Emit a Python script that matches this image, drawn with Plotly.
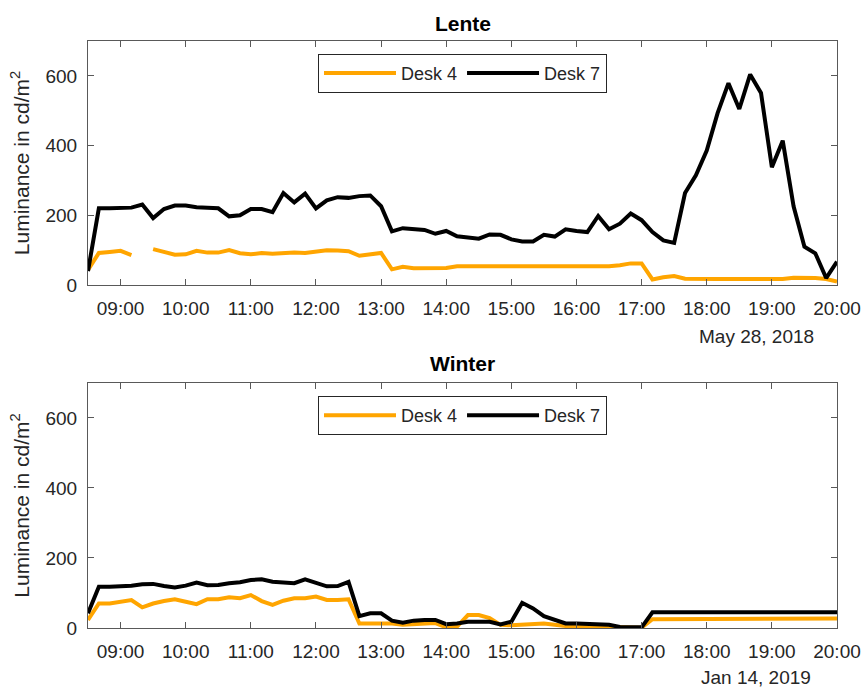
import pandas as pd
import plotly.graph_objects as go

# ---- data (10-minute samples, 08:30 - 20:00) ----
times_lente = pd.date_range("2018-05-28 08:30", "2018-05-28 20:00", freq="10min")
times_winter = pd.date_range("2019-01-14 08:30", "2019-01-14 20:00", freq="10min")

lente_desk4 = [43, 92, 95, 98, 86, None, 103, 95, 87, 88,
               98, 93, 93, 100, 91, 88, 92, 90, 92, 93,
               92, 97, 100, 99, 97, 84, 88, 92, 45, 52,
               48, 48, 49, 49, 54, 54, 54, 54, 55, 54,
               55, 54, 54, 55, 55, 55, 56, 55, 54, 57,
               62, 62, 16, 22, 26, 18, 17, 17, 17, 17,
               17, 17, 17, 17, 17, 21, 21, 20, 17, 10]

lente_desk7 = [40, 220, 220, 220, 222, 231, 192, 218, 228, 228,
               223, 222, 220, 197, 200, 218, 218, 209, 264, 237,
               262, 220, 243, 252, 250, 255, 257, 226, 154, 163,
               160, 158, 147, 155, 140, 136, 133, 145, 144, 131,
               125, 125, 144, 139, 160, 155, 152, 198, 160, 176,
               205, 186, 152, 128, 121, 264, 315, 386, 493, 579,
               505, 604, 551, 338, 414, 226, 110, 91, 20, 67]

winter_desk4 = [23, 70, 70, 75, 80, 59, 70, 77, 82, 75,
                68, 82, 82, 88, 85, 94, 77, 66, 78, 85,
                85, 90, 80, 80, 82, 13, 13, 13, 13, 9,
                11, 13, 14, 2, 4, 37, 37, 28, 9, 8,
                10, 11, 13, 9, 6, 6, 5, 4, 3, 1,
                1, 1, 25, 25, 25, 25, 25, 25, 25, 25,
                25, 26, 26, 26, 26, 26, 26, 27, 27, 27]

winter_desk7 = [42, 118, 118, 119, 121, 125, 126, 120, 116, 121,
                130, 122, 123, 128, 131, 137, 139, 132, 131, 128,
                139, 130, 119, 120, 132, 34, 42, 42, 21, 15,
                21, 23, 23, 11, 13, 18, 18, 18, 10, 18,
                72, 56, 34, 23, 13, 13, 11, 10, 9, 3,
                2, 2, 45, 45, 45, 45, 45, 45, 45, 45,
                45, 45, 45, 45, 45, 45, 45, 45, 45, 45]

series_names = ["Desk 4", "Desk 7"]
panel_titles = ["Lente", "Winter"]
date_labels = ["May 28, 2018", "Jan 14, 2019"]
y_ticks = [0, 200, 400, 600]

ORANGE = "#FFA500"
BLACK = "#000000"
TXT = "#262626"
FONT = "Liberation Sans, Arial, Helvetica, sans-serif"
LW = 4

fig = go.Figure()

fig.add_trace(go.Scatter(x=times_lente, y=lente_desk4, mode="lines", name=series_names[0],
                         line=dict(color=ORANGE, width=LW), xaxis="x", yaxis="y", legend="legend"))
fig.add_trace(go.Scatter(x=times_lente, y=lente_desk7, mode="lines", name=series_names[1],
                         line=dict(color=BLACK, width=LW), xaxis="x", yaxis="y", legend="legend"))
fig.add_trace(go.Scatter(x=times_winter, y=winter_desk4, mode="lines", name=series_names[0],
                         line=dict(color=ORANGE, width=LW), xaxis="x2", yaxis="y2", legend="legend2"))
fig.add_trace(go.Scatter(x=times_winter, y=winter_desk7, mode="lines", name=series_names[1],
                         line=dict(color=BLACK, width=LW), xaxis="x2", yaxis="y2", legend="legend2"))

axis_common = dict(showline=True, linecolor="#595959", linewidth=1, mirror="ticks",
                   ticks="inside", ticklen=6, tickcolor="#595959", showgrid=False, zeroline=False,
                   automargin=False,
                   tickfont=dict(size=19, color=TXT, family=FONT))

xcommon = dict(axis_common, type="date", tickformat="%H:%M", dtick=3600000, ticklabelstandoff=6)
ytitle = dict(text="Luminance in cd/m<sup>2</sup>", standoff=10,
              font=dict(size=21, color=TXT, family=FONT))

fig.update_layout(
    width=863, height=689,
    margin=dict(l=88, r=26, t=41, b=61, autoexpand=False),
    template="none",
    paper_bgcolor="white", plot_bgcolor="white",
    font=dict(family=FONT, color=TXT, size=19),
    xaxis=dict(xcommon, domain=[0, 1], anchor="y",
               range=["2018-05-28 08:30", "2018-05-28 20:00"], tick0="2018-05-28 09:00"),
    yaxis=dict(axis_common, domain=[0.5843, 1], anchor="x", range=[0, 700], tickvals=y_ticks,
               ticklabelstandoff=6, title=ytitle),
    xaxis2=dict(xcommon, domain=[0, 1], anchor="y2",
                range=["2019-01-14 08:30", "2019-01-14 20:00"], tick0="2019-01-14 09:00"),
    yaxis2=dict(axis_common, domain=[0, 0.4174], anchor="x2", range=[0, 700], tickvals=y_ticks,
                ticklabelstandoff=6, title=ytitle),
    legend=dict(orientation="h", x=0.5, xanchor="center", y=0.978, yanchor="top",
                bordercolor="#262626", borderwidth=1, bgcolor="white", itemwidth=72,
                font=dict(size=18, color=TXT, family=FONT), tracegroupgap=0),
    legend2=dict(orientation="h", x=0.5, xanchor="center", y=0.395, yanchor="top",
                 bordercolor="#262626", borderwidth=1, bgcolor="white", itemwidth=72,
                 font=dict(size=18, color=TXT, family=FONT), tracegroupgap=0),
    showlegend=True,
)

annotations = [
    dict(text="<b>" + panel_titles[0] + "</b>", x=0.5, y=1.030, xref="paper", yref="paper",
         showarrow=False, font=dict(size=21, color="#000000", family=FONT),
         xanchor="center", yanchor="middle"),
    dict(text="<b>" + panel_titles[1] + "</b>", x=0.5, y=0.451, xref="paper", yref="paper",
         showarrow=False, font=dict(size=21, color="#000000", family=FONT),
         xanchor="center", yanchor="middle"),
    dict(text=date_labels[0], x=0.892, y=0.4974, xref="paper", yref="paper",
         showarrow=False, font=dict(size=19, color=TXT, family=FONT),
         xanchor="center", yanchor="middle"),
    dict(text=date_labels[1], x=0.892, y=-0.0835, xref="paper", yref="paper",
         showarrow=False, font=dict(size=19, color=TXT, family=FONT),
         xanchor="center", yanchor="middle"),
]
fig.update_layout(annotations=annotations)

fig.write_html("out.html",
               config={"displayModeBar": False},
               post_script="document.body.style.margin='0';document.body.style.overflow='hidden';")
